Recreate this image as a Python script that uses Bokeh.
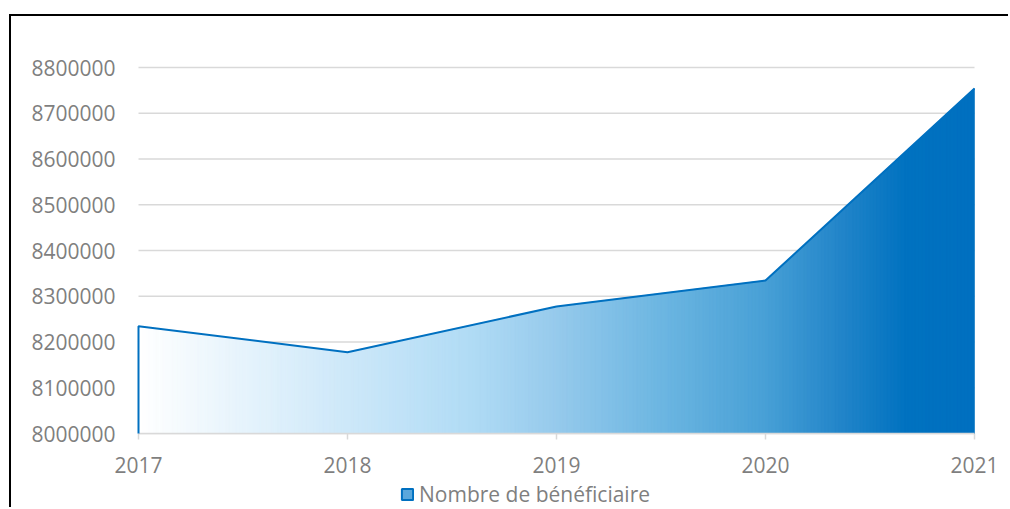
import numpy as np
from bokeh.plotting import figure
from bokeh.models import Range1d, Legend, LegendItem, ColumnDataSource
from bokeh.embed import file_html
from bokeh.resources import INLINE

# ---- data ----
years = [2017, 2018, 2019, 2020, 2021]
beneficiaires = [8234500, 8177700, 8277600, 8334400, 8754000]
series_name = "Nombre de bénéficiaire"
y_ticks = [8000000, 8100000, 8200000, 8300000, 8400000, 8500000, 8600000, 8700000, 8800000]
y_tick_labels = ["8000000", "8100000", "8200000", "8300000", "8400000",
                 "8500000", "8600000", "8700000", "8800000"]
x_tick_labels = ["2017", "2018", "2019", "2020", "2021"]

# ---- style ----
grad_t = [0.0, 0.25, 0.40, 0.50, 0.62, 0.75, 0.85, 0.92, 1.0]
grad_rgb = [(255, 255, 255), (205, 232, 249), (176, 219, 245), (150, 202, 236),
            (110, 183, 226), (72, 160, 214), (30, 130, 200), (0, 114, 192), (0, 112, 192)]
text_col = "#7f7f7f"
grid_col = "#d9d9d9"
blue = "#0070c0"
font = "Open Sans"
fsize = "21px"

# layout (pixels inside the canvas)
W, H = 999, 493
plot_left, plot_right = 127, 963      # where first / last year sit
plot_top, plot_bottom = 51, 417       # where top / bottom tick sit

y_base = y_ticks[0]
y_top = y_ticks[-1]
px_x = (plot_right - plot_left) / (years[-1] - years[0])
px_y = (plot_bottom - plot_top) / (y_top - y_base)
x_range = Range1d(years[0] - plot_left / px_x, years[-1] + (W - plot_right) / px_x)
y_range = Range1d(y_base - (H - plot_bottom) / px_y, y_top + plot_top / px_y)

p = figure(width=W, height=H, output_backend="svg", toolbar_location=None,
           x_range=x_range, y_range=y_range,
           x_axis_location=None, y_axis_location=None,
           min_border_left=0, min_border_right=0, min_border_top=0, min_border_bottom=0)
p.margin = (14, 0, 0, 9)
p.styles = {"border-left": "2px solid black", "border-top": "2px solid black"}
p.outline_line_color = None
p.background_fill_color = "white"
p.border_fill_color = "white"
p.xgrid.visible = False
p.ygrid.visible = False

# gridlines
n = len(y_ticks)
p.segment(x0=[years[0]] * n, x1=[years[-1]] * n, y0=y_ticks, y1=y_ticks,
          line_color=grid_col, line_width=1.5)
# x tick marks
tick_len = 6 / px_y
p.segment(x0=years, x1=years, y0=[y_base] * len(years), y1=[y_base - tick_len] * len(years),
          line_color=grid_col, line_width=1.5)

# gradient area built from thin strips under the data line
xs, ys, cols = [], [], []
per_seg = 60
for i in range(len(years) - 1):
    edges = np.linspace(years[i], years[i + 1], per_seg + 1)
    for a, b in zip(edges[:-1], edges[1:]):
        b2 = min(b + (b - a) * 0.35, years[-1])
        ya = np.interp(a, years, beneficiaires)
        yb = np.interp(b2, years, beneficiaires)
        t = ((a + b) / 2 - years[0]) / (years[-1] - years[0])
        r = np.interp(t, grad_t, [c[0] for c in grad_rgb])
        g = np.interp(t, grad_t, [c[1] for c in grad_rgb])
        bb = np.interp(t, grad_t, [c[2] for c in grad_rgb])
        xs.append([a, b2, b2, a])
        ys.append([y_base, y_base, yb, ya])
        cols.append("#%02x%02x%02x" % (int(round(r)), int(round(g)), int(round(bb))))
src = ColumnDataSource(dict(xs=xs, ys=ys, c=cols))
p.patches("xs", "ys", source=src, fill_color="c", line_color="c", line_width=0.6)

# x axis baseline over the fill
p.segment(x0=[years[0]], x1=[years[-1]], y0=[y_base], y1=[y_base],
          line_color=grid_col, line_width=1.5)

# outline of the area
p.line([years[0]] + years, [y_base] + beneficiaires, line_color=blue, line_width=2)

# tick labels
p.text(x=years, y=[y_base] * len(years), text=x_tick_labels, y_offset=31,
       text_align="center", text_baseline="middle", text_font={"value": font},
       text_font_size={"value": fsize}, text_color=text_col)
p.text(x=[years[0]] * n, y=y_ticks, text=y_tick_labels, x_offset=-23,
       text_align="right", text_baseline="middle", text_font={"value": font},
       text_font_size={"value": fsize}, text_color=text_col)

# legend icon renderer (degenerate, invisible)
leg_r = p.quad(left=[years[0]], right=[years[0]], top=[y_base], bottom=[y_base],
               fill_color="#5aa7dc", line_color=blue, line_width=2)

legend = Legend(items=[LegendItem(label=series_name, renderers=[leg_r])],
                location=(389, 1), orientation="horizontal",
                border_line_color=None, background_fill_alpha=0,
                label_text_font=font, label_text_font_size=fsize,
                label_text_color=text_col, glyph_width=14, glyph_height=14,
                label_standoff=5, label_height=20, padding=0, margin=0, spacing=0)
p.add_layout(legend)

open("out.html", "w").write(file_html(p, INLINE))
